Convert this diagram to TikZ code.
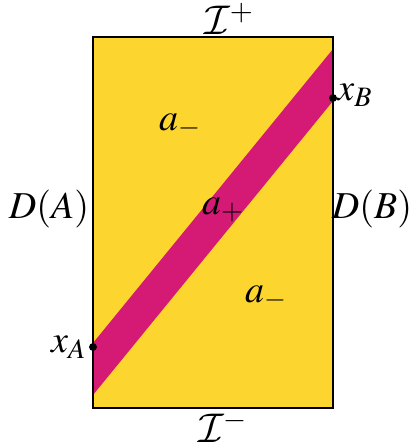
\documentclass[tikz,border=0pt]{standalone}
\usepackage{amsmath,amssymb}
\usepackage{mathptmx}
\DeclareMathAlphabet{\mathcal}{OMS}{cmsy}{m}{n}
\usetikzlibrary{positioning}
\definecolor{regyel}{HTML}{FDD52F}
\definecolor{regmag}{HTML}{D41A75}
\tikzset{
  region/.style={fill=regyel,draw=black,line width=1.1pt},
  band/.style={fill=regmag},
  pt/.style={circle,fill=black,inner sep=1.4pt},
  lbl/.style={font=\fontsize{19}{22}\selectfont,inner sep=1pt},
  scri/.style={lbl,font=\fontsize{20}{22}\selectfont,inner sep=0pt},
}
\begin{document}
\begin{tikzpicture}[x=0.5pt,y=-0.5pt]
  \useasboundingbox (0,0) rectangle (414,444);
  \fill[regyel] (93,37) rectangle (333,408);
  \fill[band] (93,343) -- (333,49) -- (333,101) -- (93,395) -- cycle;
  \draw[region,fill=none] (93,37) rectangle (333,408);
  \node[pt] (xa) at (93,347) {};
  \node[pt] (xb) at (333,98) {};
  \node[lbl,left=0pt of xa] {$x_A$};
  \node[lbl,anchor=west] at (335,95) {$x_B$};
  \node[scri] (scriA) at (229,19) {$\mathcal{I}^+$};
  \node[scri] (scriB) at (223,427) {$\mathcal{I}^-$};
  \node[lbl] (dA) at (49,209) {$D(A)$};
  \node[lbl] (dB) at (372,209) {$D(B)$};
  \node[lbl] (am1) at (180,126) {$a_-$};
  \node[lbl] (am2) at (266,298) {$a_-$};
  \node[lbl] (ap) at (223,210) {$a_+$};
\end{tikzpicture}
\end{document}
